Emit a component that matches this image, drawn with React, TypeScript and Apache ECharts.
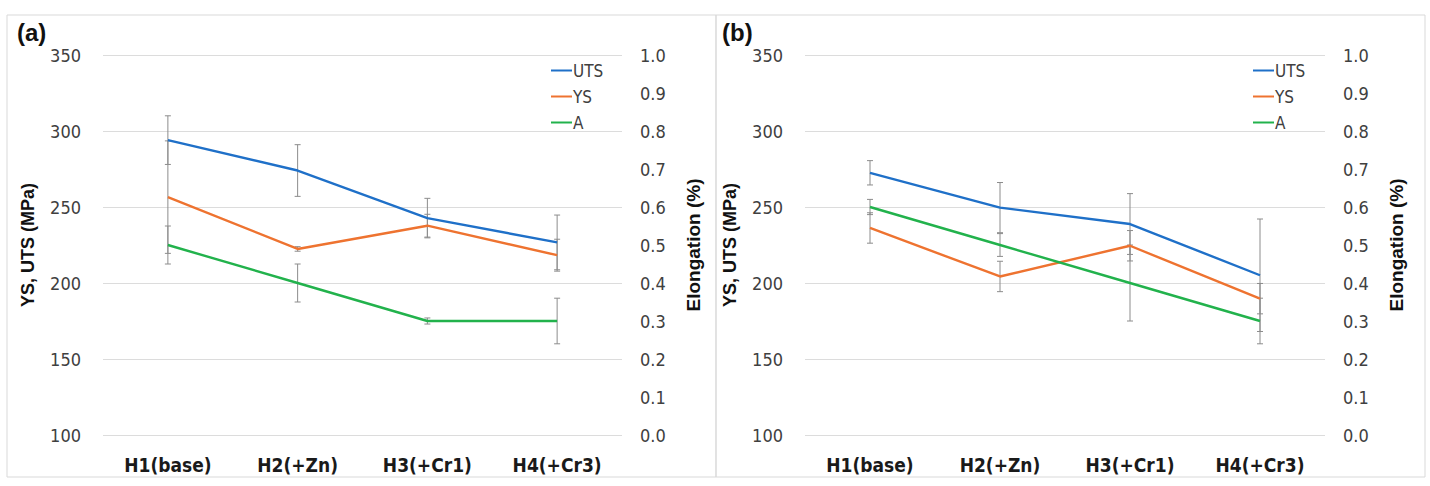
import React, { useEffect, useRef } from 'react'
import * as echarts from 'echarts'

const categories = ['H1(base)', 'H2(+Zn)', 'H3(+Cr1)', 'H4(+Cr3)']

// panel (a)
const utsA = [294, 274, 242.7, 226.7]
const utsErrA = [16, 17, 13, 18]
const ysA = [256.5, 222.4, 237.7, 218.3]
const ysErrA = [37, 1.5, 7.5, 10.5]
const elA = [0.5, 0.4, 0.3, 0.3]
const elErrA = [0.05, 0.05, 0.008, 0.06]

// panel (b)
const utsB = [272.5, 249.6, 238.8, 205.1]
const utsErrB = [8, 16.5, 20, 37]
const ysB = [236.2, 204.3, 224.5, 189.7]
const ysErrB = [10, 10, 10, 10]
const elB = [0.6, 0.5, 0.4, 0.3]
const elErrB = [0.02, 0.03, 0.1, 0.06]

const NARROW = '"Liberation Sans Narrow", "DejaVu Sans Condensed", "Roboto", sans-serif'
const BOLD = '"Liberation Sans", Arial, sans-serif'

const COLORS = { UTS: '#1F70C8', YS: '#EE7330', A: '#22B24C' }

const errorBars = (values: number[], errs: number[], grid: number, yAxis: number) => ({
    type: 'custom',
    xAxisIndex: grid,
    yAxisIndex: yAxis,
    silent: true,
    z: 1,
    data: values.map((v, i) => [i, v - errs[i], v + errs[i]]),
    encode: { x: 0, y: [1, 2] },
    renderItem: (params: any, api: any) => {
        const lo = api.coord([api.value(0), api.value(1)])
        const hi = api.coord([api.value(0), api.value(2)])
        const style = { stroke: '#8c8c8c', lineWidth: 1 }
        const w = 3
        return {
            type: 'group',
            children: [
                { type: 'line', shape: { x1: lo[0], y1: lo[1], x2: hi[0], y2: hi[1] }, style },
                { type: 'line', shape: { x1: lo[0] - w, y1: lo[1], x2: lo[0] + w, y2: lo[1] }, style },
                { type: 'line', shape: { x1: hi[0] - w, y1: hi[1], x2: hi[0] + w, y2: hi[1] }, style },
            ],
        }
    },
})

const line = (name: string, data: number[], grid: number, yAxis: number) => ({
    name,
    type: 'line',
    xAxisIndex: grid,
    yAxisIndex: yAxis,
    data,
    symbol: 'none',
    z: 3,
    lineStyle: { color: (COLORS as any)[name], width: 2.4 },
    itemStyle: { color: (COLORS as any)[name] },
})

const App: React.FC = () => {
    const chartRef = useRef<HTMLDivElement>(null)

    useEffect(() => {
        document.body.style.margin = '0'
        const chart = echarts.init(chartRef.current, null, { renderer: 'svg' })

        const grids = [
            { left: 103, width: 519, top: 55, bottom: 51 },
            { left: 805, width: 520, top: 55, bottom: 51 },
        ]

        const xAxes = grids.map((_, i) => ({
            type: 'category',
            gridIndex: i,
            data: categories,
            axisLine: { show: false },
            axisTick: { show: false },
            axisLabel: { fontFamily: NARROW, fontWeight: 'bold', fontSize: 19, color: '#1a1a1a', margin: 20 },
        }))

        const yAxes: any[] = []
        grids.forEach((_, i) => {
            yAxes.push({
                type: 'value',
                gridIndex: i,
                min: 100,
                max: 350,
                interval: 50,
                name: 'YS, UTS (MPa)',
                nameLocation: 'middle',
                nameRotate: 90,
                nameGap: 66,
                nameTextStyle: { fontFamily: BOLD, fontWeight: 'bold', fontSize: 18, color: '#111' },
                axisLine: { show: false },
                axisTick: { show: false },
                axisLabel: { fontFamily: NARROW, fontSize: 18, color: '#404040', margin: 22 },
                splitLine: { lineStyle: { color: '#dcdcdc', width: 1 } },
            })
            yAxes.push({
                type: 'value',
                gridIndex: i,
                position: 'right',
                min: 0,
                max: 1,
                interval: 0.1,
                name: 'Elongation (%)',
                nameLocation: 'middle',
                nameRotate: 90,
                nameGap: 62,
                nameTextStyle: { fontFamily: BOLD, fontWeight: 'bold', fontSize: 19, color: '#111' },
                axisLine: { show: false },
                axisTick: { show: false },
                axisLabel: {
                    fontFamily: NARROW,
                    fontSize: 18,
                    color: '#404040',
                    margin: 18,
                    formatter: (v: number) => v.toFixed(1),
                },
                splitLine: { show: false },
            })
        })

        const legend = (left: number) => ({
            orient: 'vertical',
            left,
            top: 57,
            itemWidth: 21,
            itemHeight: 2,
            itemGap: 9,
            icon: 'rect',
            data: ['UTS', 'YS', 'A'],
            textStyle: { fontFamily: NARROW, fontSize: 17, color: '#404040', padding: [0, 0, 0, -4] },
        })

        const option = {
            animation: false,
            grid: grids,
            xAxis: xAxes,
            yAxis: yAxes,
            legend: [legend(546), legend(1248)],
            graphic: [
                {
                    type: 'rect',
                    shape: { x: 7, y: 15, width: 709, height: 462 },
                    style: { fill: 'none', stroke: '#d9d9d9', lineWidth: 1 },
                    silent: true,
                },
                {
                    type: 'rect',
                    shape: { x: 716, y: 15, width: 709, height: 462 },
                    style: { fill: 'none', stroke: '#d9d9d9', lineWidth: 1 },
                    silent: true,
                },
                {
                    type: 'text',
                    left: 17,
                    top: 20,
                    style: { text: '(a)', font: 'bold 24px "Liberation Sans", Arial, sans-serif', fill: '#111' },
                },
                {
                    type: 'text',
                    left: 722,
                    top: 20,
                    style: { text: '(b)', font: 'bold 24px "Liberation Sans", Arial, sans-serif', fill: '#111' },
                },
            ],
            series: [
                errorBars(utsA, utsErrA, 0, 0),
                errorBars(ysA, ysErrA, 0, 0),
                errorBars(elA, elErrA, 0, 1),
                line('UTS', utsA, 0, 0),
                line('YS', ysA, 0, 0),
                line('A', elA, 0, 1),
                errorBars(utsB, utsErrB, 1, 2),
                errorBars(ysB, ysErrB, 1, 2),
                errorBars(elB, elErrB, 1, 3),
                line('UTS', utsB, 1, 2),
                line('YS', ysB, 1, 2),
                line('A', elB, 1, 3),
            ],
        }

        chart.setOption(option)

        return () => {
            chart.dispose()
        }
    }, [])

    return <div ref={chartRef} style={{ width: '1430px', height: '486px', background: '#fff' }} />
}

export default App
